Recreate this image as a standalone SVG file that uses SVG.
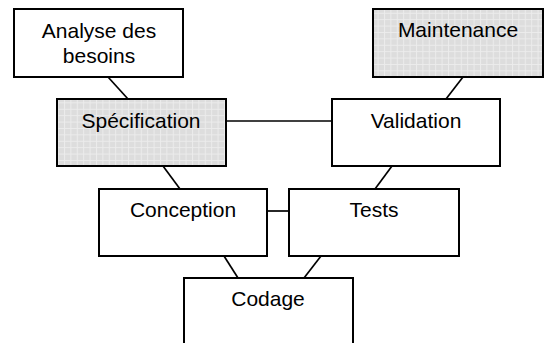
<svg xmlns="http://www.w3.org/2000/svg" width="547" height="343" viewBox="0 0 547 343">
<defs>
<pattern id="grid" width="6.4" height="6.4" patternUnits="userSpaceOnUse">
<rect width="6.4" height="6.4" fill="#dddddd"/>
<path d="M0 0.5H6.4M0.5 0V6.4" stroke="#ececec" stroke-width="1" fill="none"/>
</pattern>
</defs>
<style>
.box{fill:#ffffff;stroke:#000;stroke-width:2}
.grey{fill:url(#grid);stroke:#000;stroke-width:2}
text{font-family:"Liberation Sans",Arial,sans-serif;font-size:21px;fill:#000;text-anchor:middle}
.ln{stroke:#000;stroke-width:1.7;fill:none}
</style>
<g id="connectors">
<line class="ln" x1="108" y1="77" x2="128" y2="99"/>
<line class="ln" x1="226" y1="121" x2="332" y2="121"/>
<line class="ln" x1="463" y1="77" x2="446" y2="99"/>
<line class="ln" x1="163" y1="166" x2="180" y2="189"/>
<line class="ln" x1="392" y1="166" x2="375" y2="189"/>
<line class="ln" x1="267" y1="211" x2="289" y2="211"/>
<line class="ln" x1="224" y1="256" x2="238" y2="278"/>
<line class="ln" x1="321" y1="256" x2="304" y2="278"/>
</g>
<g id="analyse">
<rect class="box" x="14" y="9" width="169" height="68"/>
<text x="99" y="38">Analyse des</text>
<text x="99" y="63">besoins</text>
</g>
<g id="maintenance">
<rect class="grey" x="373" y="9" width="170" height="68"/>
<text x="458" y="37">Maintenance</text>
</g>
<g id="specification">
<rect class="grey" x="57" y="99" width="169" height="67"/>
<text x="141" y="128">Spécification</text>
</g>
<g id="validation">
<rect class="box" x="332" y="99" width="168" height="67"/>
<text x="416" y="128">Validation</text>
</g>
<g id="conception">
<rect class="box" x="99" y="189" width="168" height="67"/>
<text x="183" y="217">Conception</text>
</g>
<g id="tests">
<rect class="box" x="289" y="189" width="170" height="67"/>
<text x="374" y="217">Tests</text>
</g>
<g id="codage">
<rect class="box" x="184" y="278" width="169" height="80"/>
<text x="268" y="306">Codage</text>
</g>
</svg>
